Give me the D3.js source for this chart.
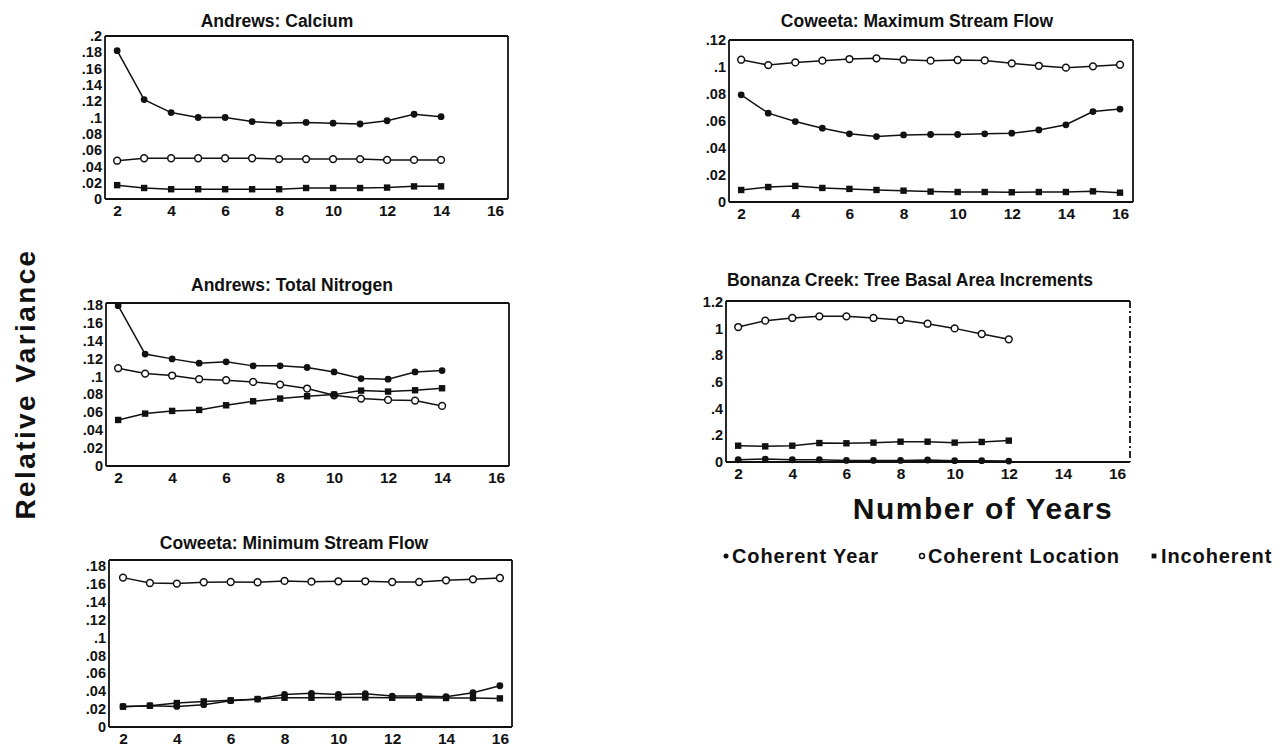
<!DOCTYPE html>
<html>
<head>
<meta charset="utf-8">
<script src="https://cdn.jsdelivr.net/npm/d3@7"></script>
<style>
  html, body { margin: 0; padding: 0; background: #fff; }
  svg { display: block; }
  .tick-label { font-family: "Liberation Sans Narrow", "Arial Narrow", "Liberation Sans", Arial, sans-serif; font-weight: bold; fill: #111; }
  .panel-title { font-family: "Liberation Sans Narrow", "Arial Narrow", "Liberation Sans", Arial, sans-serif; font-weight: bold; font-size: 17.5px; fill: #111; }
  .big-label { font-family: "Liberation Sans", Arial, sans-serif; font-weight: bold; fill: #111; }
  .legend-text { font-family: "Liberation Sans", Arial, sans-serif; font-weight: bold; font-size: 20px; letter-spacing: 0.9px; fill: #111; }
</style>
</head>
<body>
<svg id="chart" width="1283" height="747"></svg>
<script>
// ---- Data: relative variance by number of years ----
const xTickValues = [2, 4, 6, 8, 10, 12, 14, 16];
const seriesNames = ["Coherent Year", "Coherent Location", "Incoherent"];

// Andrews: Calcium (2..14 years)
const calciumYears = [2, 3, 4, 5, 6, 7, 8, 9, 10, 11, 12, 13, 14];
const calciumCoherentYear = [0.182, 0.122, 0.106, 0.100, 0.100, 0.095, 0.093, 0.094, 0.093, 0.092, 0.096, 0.104, 0.101];
const calciumCoherentLocation = [0.047, 0.050, 0.050, 0.050, 0.050, 0.050, 0.049, 0.049, 0.049, 0.049, 0.048, 0.048, 0.048];
const calciumIncoherent = [0.017, 0.0135, 0.012, 0.012, 0.012, 0.012, 0.012, 0.0135, 0.0135, 0.0135, 0.014, 0.0155, 0.0155];
const calciumTicks = [0, 0.02, 0.04, 0.06, 0.08, 0.1, 0.12, 0.14, 0.16, 0.18, 0.2];

// Coweeta: Maximum Stream Flow (2..16 years)
const maxFlowYears = [2, 3, 4, 5, 6, 7, 8, 9, 10, 11, 12, 13, 14, 15, 16];
const maxFlowCoherentYear = [0.0794, 0.0658, 0.0596, 0.0547, 0.0505, 0.0485, 0.0497, 0.0500, 0.0500, 0.0505, 0.0510, 0.0534, 0.0572, 0.0670, 0.0688];
const maxFlowCoherentLocation = [0.1054, 0.1014, 0.1034, 0.1047, 0.1059, 0.1064, 0.1054, 0.1047, 0.1052, 0.1049, 0.1027, 0.1009, 0.0995, 0.1005, 0.1017];
const maxFlowIncoherent = [0.0089, 0.0111, 0.0119, 0.0104, 0.0097, 0.0089, 0.0084, 0.0077, 0.0074, 0.0074, 0.0072, 0.0074, 0.0074, 0.0079, 0.0069];
const maxFlowTicks = [0, 0.02, 0.04, 0.06, 0.08, 0.1, 0.12];

// Andrews: Total Nitrogen (2..14 years)
const nitrogenYears = [2, 3, 4, 5, 6, 7, 8, 9, 10, 11, 12, 13, 14];
const nitrogenCoherentYear = [0.179, 0.125, 0.1196, 0.1148, 0.1163, 0.1118, 0.1118, 0.110, 0.105, 0.0976, 0.0969, 0.105, 0.1066];
const nitrogenCoherentLocation = [0.1092, 0.1032, 0.101, 0.0969, 0.0958, 0.0939, 0.0909, 0.0865, 0.079, 0.0753, 0.0738, 0.073, 0.0671];
const nitrogenIncoherent = [0.0514, 0.0585, 0.0615, 0.0626, 0.0678, 0.0723, 0.0753, 0.0779, 0.0797, 0.0842, 0.0831, 0.0846, 0.0868];
const nitrogenTicks = [0, 0.02, 0.04, 0.06, 0.08, 0.1, 0.12, 0.14, 0.16, 0.18];

// Bonanza Creek: Tree Basal Area Increments (2..12 years)
const basalYears = [2, 3, 4, 5, 6, 7, 8, 9, 10, 11, 12];
const basalCoherentYear = [0.017, 0.022, 0.017, 0.017, 0.012, 0.012, 0.012, 0.015, 0.010, 0.010, 0.007];
const basalCoherentLocation = [1.010, 1.058, 1.078, 1.090, 1.090, 1.078, 1.063, 1.035, 1.000, 0.958, 0.918];
const basalIncoherent = [0.122, 0.117, 0.122, 0.142, 0.140, 0.145, 0.152, 0.152, 0.145, 0.150, 0.160];
const basalTicks = [0, 0.2, 0.4, 0.6, 0.8, 1, 1.2];

// Coweeta: Minimum Stream Flow (2..16 years)
const minFlowYears = [2, 3, 4, 5, 6, 7, 8, 9, 10, 11, 12, 13, 14, 15, 16];
const minFlowCoherentYear = [0.023, 0.0238, 0.023, 0.025, 0.0294, 0.0312, 0.0364, 0.0376, 0.0364, 0.0372, 0.0346, 0.0346, 0.0338, 0.0383, 0.0461];
const minFlowCoherentLocation = [0.167, 0.161, 0.1603, 0.1618, 0.1621, 0.1618, 0.1633, 0.1625, 0.1629, 0.1629, 0.1621, 0.1621, 0.164, 0.1651, 0.1666];
const minFlowIncoherent = [0.0227, 0.0238, 0.0268, 0.0286, 0.0298, 0.0312, 0.0327, 0.0327, 0.0331, 0.0331, 0.0327, 0.0327, 0.0324, 0.0324, 0.032];
const minFlowTicks = [0, 0.02, 0.04, 0.06, 0.08, 0.1, 0.12, 0.14, 0.16, 0.18];

// ---- Panel layout ----
const panels = [
  { title: "Andrews: Calcium", titleX: 277, titleY: 27,
    box: { x0: 105, x1: 508, y0: 36, y1: 199 }, xDomain: [1.55, 16.48], yMax: 0.2,
    years: calciumYears, ticks: calciumTicks,
    series: [calciumCoherentYear, calciumCoherentLocation, calciumIncoherent] },
  { title: "Coweeta:  Maximum Stream Flow", titleX: 917, titleY: 27,
    box: { x0: 729, x1: 1133, y0: 40, y1: 202 }, xDomain: [1.55, 16.48], yMax: 0.12,
    years: maxFlowYears, ticks: maxFlowTicks,
    series: [maxFlowCoherentYear, maxFlowCoherentLocation, maxFlowIncoherent] },
  { title: "Andrews: Total Nitrogen", titleX: 292, titleY: 291,
    box: { x0: 106, x1: 509, y0: 303, y1: 466 }, xDomain: [1.55, 16.48], yMax: 0.182,
    years: nitrogenYears, ticks: nitrogenTicks,
    series: [nitrogenCoherentYear, nitrogenCoherentLocation, nitrogenIncoherent] },
  { title: "Bonanza Creek: Tree Basal Area Increments", titleX: 910, titleY: 286,
    box: { x0: 726, x1: 1130, y0: 301, y1: 462 }, xDomain: [1.55, 16.48], yMax: 1.205,
    years: basalYears, ticks: basalTicks, dashedRight: true,
    series: [basalCoherentYear, basalCoherentLocation, basalIncoherent] },
  { title: "Coweeta:  Minimum Stream Flow", titleX: 294, titleY: 549,
    box: { x0: 109, x1: 512, y0: 560, y1: 727 }, xDomain: [1.48, 16.45], yMax: 0.1867,
    years: minFlowYears, ticks: minFlowTicks,
    series: [minFlowCoherentYear, minFlowCoherentLocation, minFlowIncoherent] }
];

const svg = d3.select("#chart");
const ink = "#111";

const fmtTick = v => v === 0 ? "0" : String(+v.toFixed(2)).replace(/^0\./, ".");

function drawMarker(g, kind, cx, cy, size) {
  if (kind === 0) {
    g.append("circle").attr("cx", cx).attr("cy", cy).attr("r", size)
      .attr("fill", ink);
  } else if (kind === 1) {
    g.append("circle").attr("cx", cx).attr("cy", cy).attr("r", size)
      .attr("fill", "#fff").attr("stroke", ink).attr("stroke-width", 1.5);
  } else {
    const s = size * 2;
    g.append("rect").attr("x", cx - s / 2).attr("y", cy - s / 2)
      .attr("width", s).attr("height", s).attr("fill", ink);
  }
}

panels.forEach(p => {
  const g = svg.append("g");
  const x = d3.scaleLinear().domain(p.xDomain).range([p.box.x0, p.box.x1]);
  const y = d3.scaleLinear().domain([0, p.yMax]).range([p.box.y1, p.box.y0]);

  // x axis labels
  const xAxis = d3.axisBottom(x).tickValues(xTickValues).tickSize(0).tickPadding(6)
    .tickFormat(d3.format("d"));
  const xg = g.append("g").attr("transform", `translate(0,${p.box.y1})`).call(xAxis);
  xg.select(".domain").remove();
  xg.selectAll("text").attr("class", "tick-label").attr("fill", null).attr("font-size", 15.5);

  // y axis labels
  const yAxis = d3.axisLeft(y).tickValues(p.ticks).tickSize(0).tickPadding(3)
    .tickFormat(fmtTick);
  const yg = g.append("g").attr("transform", `translate(${p.box.x0},0)`).call(yAxis);
  yg.select(".domain").remove();
  yg.selectAll("text").attr("class", "tick-label").attr("fill", null).attr("font-size", 14.5);

  // frame
  const b = p.box;
  const frame = g.append("g").attr("stroke", ink).attr("stroke-width", 1.8).attr("fill", "none");
  frame.append("line").attr("x1", b.x0).attr("y1", b.y0).attr("x2", b.x1).attr("y2", b.y0);
  frame.append("line").attr("x1", b.x0).attr("y1", b.y1).attr("x2", b.x1).attr("y2", b.y1);
  frame.append("line").attr("x1", b.x0).attr("y1", b.y0).attr("x2", b.x0).attr("y2", b.y1);
  frame.append("line").attr("x1", b.x1).attr("y1", b.y0).attr("x2", b.x1).attr("y2", b.y1)
    .attr("stroke-dasharray", p.dashedRight ? "7,3,2,3" : null);

  // title
  g.append("text").attr("class", "panel-title").attr("x", p.titleX).attr("y", p.titleY)
    .attr("text-anchor", "middle").text(p.title);

  // series lines and markers
  const line = d3.line().x(d => x(d[0])).y(d => y(d[1]));
  p.series.forEach((vals, k) => {
    const pts = vals.map((v, i) => [p.years[i], v]);
    g.append("path").datum(pts).attr("d", line)
      .attr("fill", "none").attr("stroke", ink).attr("stroke-width", 1.5);
    const mg = g.append("g");
    pts.forEach(d => drawMarker(mg, k, x(d[0]), y(d[1]), k === 2 ? 3.2 : 3.4));
  });
});

// shared axis titles
svg.append("text").attr("class", "big-label").attr("font-size", 28)
  .attr("letter-spacing", 2.4)
  .attr("transform", "translate(35,384) rotate(-90)")
  .attr("text-anchor", "middle").text("Relative Variance");

svg.append("text").attr("class", "big-label").attr("font-size", 30)
  .attr("letter-spacing", 1.5)
  .attr("x", 983).attr("y", 519).attr("text-anchor", "middle").text("Number of Years");

// legend
const legendItems = [
  { kind: 0, mx: 726, tx: 732 },
  { kind: 1, mx: 922, tx: 928 },
  { kind: 2, mx: 1154, tx: 1161 }
];
const lg = svg.append("g");
legendItems.forEach((it, k) => {
  drawMarker(lg, it.kind, it.mx, 556, it.kind === 2 ? 2.4 : 2.5);
  lg.append("text").attr("class", "legend-text").attr("x", it.tx).attr("y", 563)
    .text(seriesNames[k]);
});
</script>
</body>
</html>
